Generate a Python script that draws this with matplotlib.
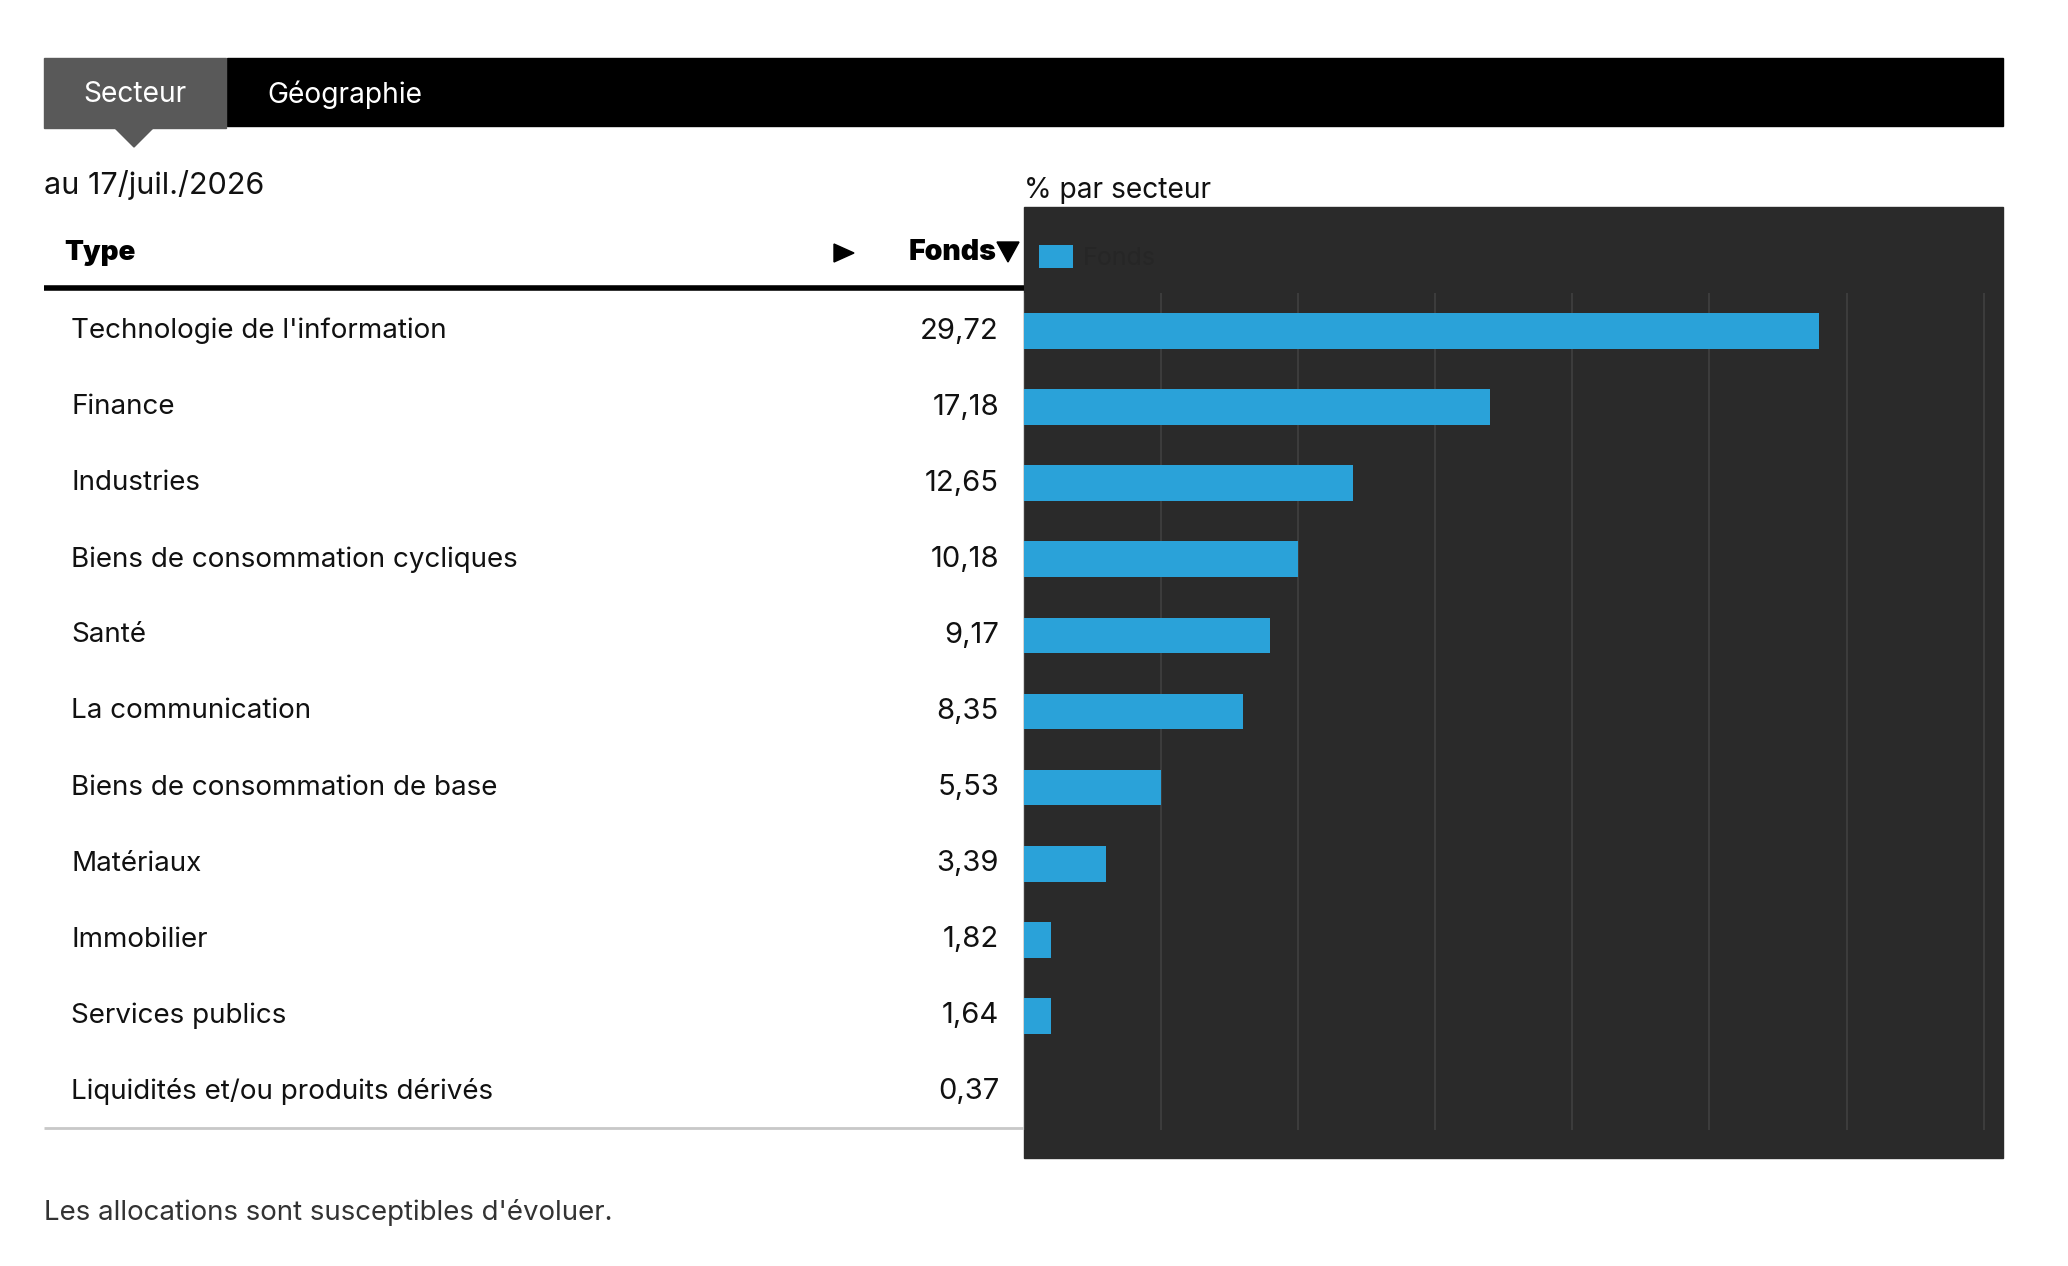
import numpy as np
import matplotlib
matplotlib.use("Agg")
import matplotlib.pyplot as plt
from matplotlib.patches import Rectangle, Polygon
from matplotlib import transforms

# Données
secteurs = [
    "Technologie de l'information",
    "Finance",
    "Industries",
    "Biens de consommation cycliques",
    "Santé",
    "La communication",
    "Biens de consommation de base",
    "Matériaux",
    "Immobilier",
    "Services publics",
    "Liquidités et/ou produits dérivés",
]
fonds = [29.72, 17.18, 12.65, 10.18, 9.17, 8.35, 5.53, 3.39, 1.82, 1.64, 0.37]
onglets = ["Secteur", "Géographie"]
date_txt = "au 17/juil./2026"
titre_graph = "% par secteur"
note = "Les allocations sont susceptibles d'évoluer."

W, H = 2068, 1266
BLEU = "#2aa2d9"
PANNEAU = "#2a2a2a"

plt.rcParams['font.family'] = ['Inter', 'DejaVu Sans']

fig = plt.figure(figsize=(W / 100, H / 100), dpi=100)
fig.patch.set_facecolor("white")

# calque en pixels pour le décor
bg = fig.add_axes([0, 0, 1, 1])
bg.set_xlim(0, W)
bg.set_ylim(H, 0)
bg.axis("off")

# barre d'onglets
bg.add_patch(Rectangle((227, 58), 2003 - 227, 67.5, color="black"))
bg.add_patch(Rectangle((43.5, 58), 182, 69.5, color="#595959"))
bg.add_patch(Polygon([(114, 127), (154, 127), (134, 147)], color="#595959"))
bg.text(134.5, 95, onglets[0], color="white", fontsize=20.3, ha="center", va="center")
bg.text(267, 95, onglets[1], color="white", fontsize=20.3, ha="left", va="center")

bg.text(44, 185, date_txt, fontsize=22, ha="left", va="center", color="#111111")
bg.text(1024, 190, titre_graph, fontsize=20.3, ha="left", va="center", color="#111111")

# panneau sombre
bg.add_patch(Rectangle((1023.5, 207), 2003 - 1023.5, 1158 - 207, color=PANNEAU, zorder=0))

# en-tête du tableau
bg.text(64.6, 253, "Type", fontsize=20, fontweight="black", ha="left", va="center")
bg.add_patch(Polygon([(834, 244), (834, 262), (854, 253)], color="black"))
bg.text(996, 253, "Fonds", fontsize=20.5, fontweight="black", ha="right", va="center")
bg.add_patch(Polygon([(997, 242), (1019, 242), (1008, 262)], color="black"))
bg.plot([43.5, 1023.5], [288, 288], color="black", lw=4, solid_capstyle="butt")

bg.text(44, 1213, note, fontsize=19.9, ha="left", va="center", color="#333333")

# graphique à barres
ax = fig.add_axes([1023.5 / W, 1 - 1130 / H, (2003 - 1023.5) / W, (1130 - 293) / H])
ax.set_facecolor(PANNEAU)
y = np.arange(len(secteurs))
ax.barh(y, np.floor(fonds), height=0.47, color=BLEU, label="Fonds", zorder=3)
ax.set_ylim(len(secteurs) - 0.5, -0.5)
ax.set_xlim(0, 35.7)
ax.set_xticks(np.arange(0, 36, 5))
ax.set_yticks([])
ax.tick_params(axis="x", length=0, labelbottom=False)
ax.grid(axis="x", color="#3e3e3e", lw=1.3, zorder=0)
for s in ax.spines.values():
    s.set_visible(False)

leg = ax.legend(loc="upper left", bbox_to_anchor=(1039 / W, 1 - 245 / H),
                bbox_transform=fig.transFigure, frameon=False, fontsize=18,
                handlelength=1.36, handleheight=1.04, handletextpad=0.4,
                borderpad=0, borderaxespad=0)
for t in leg.get_texts():
    t.set_color("#262626")

# lignes du tableau, alignées sur les barres
trans = transforms.blended_transform_factory(bg.transData, ax.transData)
for i, (nom, v) in enumerate(zip(secteurs, fonds)):
    bg.text(71, i, nom, transform=trans, fontsize=20, ha="left", va="center", color="#111111")
    bg.text(999, i, f"{v:.2f}".replace(".", ","), transform=trans, fontsize=21,
            ha="right", va="center", color="#111111")

bg.plot([43.5, 1023.5], [1127.5, 1127.5], color="#c8c8c8", lw=2, solid_capstyle="butt")

fig.savefig("out.png", dpi=100)
